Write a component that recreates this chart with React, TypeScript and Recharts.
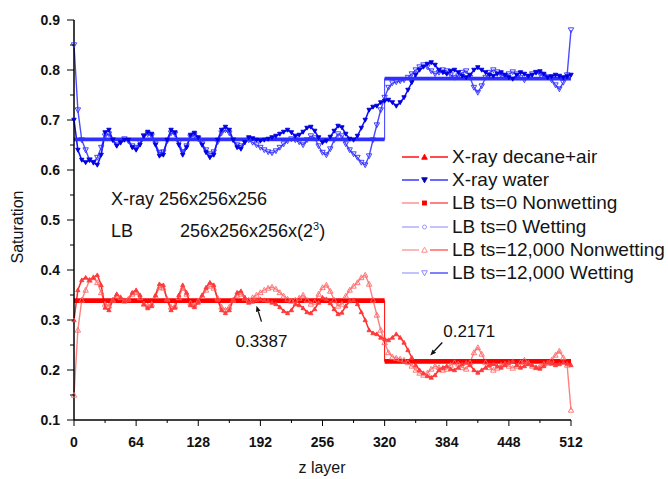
import React from "react";
import { LineChart, Line, XAxis, YAxis, ReferenceDot, Legend } from "recharts";

// saturation profiles sampled every 4 z layers (0..512)
const Z_STEP = 4;

const xrayWater = [
  0.70, 0.64, 0.62, 0.615, 0.62, 0.615, 0.61, 0.63,
  0.675, 0.68, 0.66, 0.648, 0.655, 0.66, 0.66, 0.645,
  0.64, 0.65, 0.668, 0.676, 0.672, 0.65, 0.628, 0.63,
  0.66, 0.68, 0.675, 0.65, 0.63, 0.645, 0.67, 0.674,
  0.665, 0.65, 0.635, 0.625, 0.63, 0.66, 0.68, 0.686,
  0.68, 0.66, 0.645, 0.642, 0.655, 0.665, 0.663, 0.66,
  0.658, 0.66, 0.662, 0.665, 0.668, 0.672, 0.676, 0.68,
  0.675, 0.668, 0.67, 0.676, 0.684, 0.686, 0.678, 0.665,
  0.655, 0.658, 0.666, 0.678, 0.688, 0.685, 0.672, 0.662,
  0.66, 0.668, 0.684, 0.70, 0.72, 0.726, 0.728, 0.735,
  0.738, 0.74, 0.735, 0.728, 0.735, 0.745, 0.76, 0.775,
  0.79, 0.80, 0.806, 0.812, 0.815, 0.81, 0.80, 0.795,
  0.792, 0.798, 0.80, 0.795, 0.788, 0.785, 0.79, 0.80,
  0.805, 0.80, 0.795, 0.79, 0.788, 0.792, 0.795, 0.79,
  0.785, 0.782, 0.79, 0.795, 0.792, 0.788, 0.79, 0.795,
  0.797, 0.792, 0.785, 0.787, 0.79, 0.788, 0.785, 0.787,
  0.79,
];

const lbWetting12k = [
  0.85, 0.72, 0.66, 0.64, 0.62, 0.615, 0.625, 0.645,
  0.668, 0.672, 0.66, 0.65, 0.655, 0.662, 0.658, 0.648,
  0.645, 0.655, 0.668, 0.672, 0.668, 0.652, 0.635, 0.636,
  0.658, 0.674, 0.672, 0.655, 0.636, 0.648, 0.666, 0.67,
  0.662, 0.652, 0.64, 0.632, 0.636, 0.656, 0.674, 0.68,
  0.674, 0.66, 0.65, 0.648, 0.656, 0.66, 0.655, 0.65,
  0.645, 0.64, 0.636, 0.634, 0.638, 0.645, 0.652, 0.658,
  0.662, 0.66, 0.656, 0.65, 0.66, 0.668, 0.664, 0.648,
  0.635, 0.63, 0.642, 0.66, 0.672, 0.668, 0.652, 0.64,
  0.632, 0.625, 0.615, 0.61, 0.628, 0.66, 0.69, 0.72,
  0.745, 0.765, 0.774, 0.776, 0.778, 0.78, 0.785, 0.792,
  0.80, 0.806, 0.81, 0.806, 0.798, 0.792, 0.795, 0.80,
  0.798, 0.79, 0.785, 0.788, 0.795, 0.798, 0.785, 0.765,
  0.755, 0.768, 0.785, 0.795, 0.80, 0.796, 0.79, 0.788,
  0.792, 0.796, 0.792, 0.785, 0.78, 0.786, 0.792, 0.795,
  0.792, 0.788, 0.786, 0.78, 0.77, 0.762, 0.775, 0.79,
  0.88,
];

const xrayDecane = [
  0.30, 0.36, 0.38, 0.385, 0.38, 0.385, 0.39, 0.37,
  0.325, 0.32, 0.34, 0.352, 0.345, 0.34, 0.34, 0.355,
  0.36, 0.35, 0.332, 0.324, 0.328, 0.35, 0.372, 0.37,
  0.34, 0.32, 0.325, 0.35, 0.37, 0.355, 0.33, 0.326,
  0.335, 0.35, 0.365, 0.375, 0.37, 0.34, 0.32, 0.314,
  0.32, 0.34, 0.355, 0.358, 0.345, 0.335, 0.337, 0.34,
  0.342, 0.34, 0.338, 0.335, 0.332, 0.326, 0.318, 0.314,
  0.32, 0.332, 0.33, 0.324, 0.316, 0.314, 0.322, 0.335,
  0.345, 0.342, 0.334, 0.322, 0.312, 0.315, 0.328, 0.338,
  0.34, 0.332, 0.316, 0.30, 0.28, 0.274, 0.272, 0.265,
  0.262, 0.26, 0.265, 0.272, 0.265, 0.255, 0.24, 0.225,
  0.21, 0.20, 0.194, 0.188, 0.185, 0.19, 0.20, 0.205,
  0.208, 0.202, 0.20, 0.205, 0.212, 0.215, 0.21, 0.20,
  0.195, 0.20, 0.205, 0.21, 0.212, 0.208, 0.205, 0.21,
  0.215, 0.218, 0.21, 0.205, 0.208, 0.212, 0.21, 0.205,
  0.203, 0.208, 0.215, 0.213, 0.21, 0.212, 0.215, 0.213,
  0.21,
];

const lbNonwetting12k = [
  0.15, 0.28, 0.34, 0.36, 0.38, 0.385, 0.375, 0.355,
  0.332, 0.328, 0.34, 0.35, 0.345, 0.338, 0.342, 0.352,
  0.355, 0.345, 0.332, 0.328, 0.332, 0.348, 0.365, 0.364,
  0.342, 0.326, 0.328, 0.345, 0.364, 0.352, 0.334, 0.33,
  0.338, 0.348, 0.36, 0.368, 0.364, 0.344, 0.326, 0.32,
  0.326, 0.34, 0.35, 0.352, 0.344, 0.34, 0.345, 0.35,
  0.355, 0.36, 0.364, 0.366, 0.362, 0.355, 0.348, 0.342,
  0.338, 0.34, 0.344, 0.35, 0.34, 0.332, 0.336, 0.352,
  0.365, 0.37, 0.358, 0.34, 0.328, 0.332, 0.348, 0.36,
  0.368, 0.375, 0.385, 0.39, 0.372, 0.34, 0.31, 0.28,
  0.255, 0.235, 0.226, 0.224, 0.222, 0.22, 0.215, 0.208,
  0.20, 0.194, 0.19, 0.194, 0.202, 0.208, 0.205, 0.20,
  0.202, 0.21, 0.215, 0.212, 0.205, 0.202, 0.215, 0.235,
  0.245, 0.232, 0.215, 0.205, 0.20, 0.204, 0.21, 0.212,
  0.208, 0.204, 0.208, 0.215, 0.22, 0.214, 0.208, 0.205,
  0.208, 0.212, 0.214, 0.22, 0.23, 0.238, 0.225, 0.21,
  0.12,
];

// initial LB state: uniform saturation on each side of layer 320
const lbNonwetting0 = [0.3387, 0.2171];
const lbWetting0 = [0.6613, 0.7829];
const STEP_LAYER = 320;
const Z_MAX = 512;

const xTicks = [0, 32, 64, 96, 128, 160, 192, 224, 256, 288, 320, 352, 384, 416, 448, 480, 512];
const yTicks = [0.1, 0.15, 0.2, 0.25, 0.3, 0.35, 0.4, 0.45, 0.5, 0.55, 0.6, 0.65, 0.7, 0.75, 0.8, 0.85, 0.9];

const NAMES = {
  xrayDecane: "X-ray decane+air",
  xrayWater: "X-ray water",
  lbNon0: "LB ts=0 Nonwetting",
  lbWet0: "LB ts=0 Wetting",
  lbNon12k: "LB ts=12,000 Nonwetting",
  lbWet12k: "LB ts=12,000 Wetting",
};

const FONT = '"Liberation Sans", Arial, Helvetica, sans-serif';

const toPoints = (arr: number[]) => arr.map((v, i) => ({ z: i * Z_STEP, v }));

const stepLine = (pair: number[]) => [
  { z: 0, v: pair[0] },
  { z: STEP_LAYER, v: pair[0] },
  { z: STEP_LAYER, v: pair[1] },
  { z: Z_MAX, v: pair[1] },
];

// same as stepLine but broken at the jump so the thick band skips the vertical
const stepBand = (pair: number[]) => [
  { z: 0, v: pair[0] },
  { z: STEP_LAYER, v: pair[0] },
  { z: STEP_LAYER, v: null },
  { z: STEP_LAYER, v: pair[1] },
  { z: Z_MAX, v: pair[1] },
];

type MarkerKind = "up" | "down" | "square" | "circle";

function markerShape(kind: MarkerKind, cx: number, cy: number, s: number, color: string, filled: boolean, key?: any) {
  const fill = filled ? color : "#fff";
  const fillOpacity = filled ? 1 : 0;
  if (kind === "square") {
    return <rect key={key} x={cx - s} y={cy - s} width={2 * s} height={2 * s} fill={fill} fillOpacity={fillOpacity} stroke={color} strokeWidth={0.9} />;
  }
  if (kind === "circle") {
    return <circle key={key} cx={cx} cy={cy} r={s} fill={fill} fillOpacity={fillOpacity} stroke={color} strokeWidth={0.9} />;
  }
  const d =
    kind === "up"
      ? `M${cx - s},${cy + s * 0.8}L${cx + s},${cy + s * 0.8}L${cx},${cy - s}Z`
      : `M${cx - s},${cy - s * 0.8}L${cx + s},${cy - s * 0.8}L${cx},${cy + s}Z`;
  return <path key={key} d={d} fill={fill} fillOpacity={fillOpacity} stroke={color} strokeWidth={0.9} />;
}

const dotRenderer = (kind: MarkerKind, color: string, filled: boolean, size: number) => (props: any) => {
  const { cx, cy, index } = props;
  if (cx == null || cy == null || Number.isNaN(cy)) return <g key={`d-${index}`} />;
  return markerShape(kind, cx, cy, size, color, filled, `d-${index}`);
};

function XTick(props: any) {
  const { x, y, payload } = props;
  const major = payload.value % 64 === 0;
  return (
    <g>
      <line x1={x} y1={y} x2={x} y2={y + (major ? 6 : 3)} stroke="#000" strokeWidth={1} />
      {major && (
        <text x={x} y={y + 27} textAnchor="middle" fontFamily={FONT} fontSize={14} fontWeight="bold" fill="#111">
          {payload.value}
        </text>
      )}
    </g>
  );
}

function YTick(props: any) {
  const { x, y, payload } = props;
  const major = Math.round(payload.value * 100) % 10 === 0;
  return (
    <g>
      <line x1={x - (major ? 7 : 4)} y1={y} x2={x} y2={y} stroke="#000" strokeWidth={1} />
      {major && (
        <text x={x - 14} y={y + 5} textAnchor="end" fontFamily={FONT} fontSize={14} fontWeight="bold" fill="#111">
          {payload.value.toFixed(1)}
        </text>
      )}
    </g>
  );
}

const legendRows: { name: string; left: string; right: string; kind: MarkerKind; mark: string; filled: boolean }[] = [
  { name: NAMES.xrayDecane, left: "#ff0000", right: "#ff0000", kind: "up", mark: "#ff0000", filled: true },
  { name: NAMES.xrayWater, left: "#2a2aff", right: "#2a2aff", kind: "down", mark: "#0000c0", filled: true },
  { name: NAMES.lbNon0, left: "#ff8a8a", right: "#ff4a4a", kind: "square", mark: "#ff0000", filled: true },
  { name: NAMES.lbWet0, left: "#a8a8ff", right: "#a8a8ff", kind: "circle", mark: "#9090ff", filled: false },
  { name: NAMES.lbNon12k, left: "#ff9a9a", right: "#ff5a5a", kind: "up", mark: "#ff8080", filled: false },
  { name: NAMES.lbWet12k, left: "#a8a8ff", right: "#4a4aff", kind: "down", mark: "#7a7aff", filled: false },
];

function LegendBox() {
  return (
    <div style={{ fontFamily: FONT, fontSize: 19, color: "#141414" }}>
      {legendRows.map((r) => (
        <div key={r.name} style={{ display: "flex", alignItems: "center", height: 23.3 }}>
          <svg width={52} height={12} style={{ flex: "none" }}>
            <line x1={2} y1={6} x2={19} y2={6} stroke={r.left} strokeWidth={1.4} />
            <line x1={30} y1={6} x2={48} y2={6} stroke={r.right} strokeWidth={1.4} />
            {markerShape(r.kind, 24.5, 6, r.kind === "square" || r.kind === "circle" ? 2 : 2.8, r.mark, r.filled)}
          </svg>
          <span style={{ whiteSpace: "nowrap" }}>{r.name}</span>
        </div>
      ))}
    </div>
  );
}

function Arrow({ x1, y1, x2, y2 }: { x1: number; y1: number; x2: number; y2: number }) {
  const a = Math.atan2(y2 - y1, x2 - x1);
  const L = 6;
  const w = 2.4;
  const bx = x2 - L * Math.cos(a);
  const by = y2 - L * Math.sin(a);
  const px = -Math.sin(a) * w;
  const py = Math.cos(a) * w;
  return (
    <g>
      <line x1={x1} y1={y1} x2={bx} y2={by} stroke="#111" strokeWidth={1.3} />
      <path d={`M${x2},${y2}L${bx + px},${by + py}L${bx - px},${by - py}Z`} fill="#111" />
    </g>
  );
}

export default function App() {
  return (
    <div style={{ position: "absolute", left: 0, top: 0, width: 668, height: 479, background: "#fff" }}>
      <LineChart width={668} height={479} margin={{ top: 20, right: 97, left: 0, bottom: 0 }}>
        <XAxis
          dataKey="z"
          type="number"
          domain={[0, Z_MAX]}
          ticks={xTicks}
          interval={0}
          tickSize={0}
          tickMargin={0}
          height={59}
          axisLine={{ stroke: "#000", strokeWidth: 1.5 }}
          tick={(p: any) => <XTick {...p} />}
          allowDuplicatedCategory={false}
        />
        <YAxis
          type="number"
          domain={[0.1, 0.9]}
          ticks={yTicks}
          interval={0}
          tickSize={0}
          tickMargin={0}
          width={74}
          axisLine={{ stroke: "#000", strokeWidth: 1.5 }}
          tick={(p: any) => <YTick {...p} />}
          allowDataOverflow
        />
        <Legend
          layout="vertical"
          align="center"
          verticalAlign="middle"
          content={() => <LegendBox />}
          wrapperStyle={{ left: 400, top: 145, width: 268 }}
        />

        <Line
          data={toPoints(lbNonwetting12k)}
          dataKey="v"
          name={NAMES.lbNon12k}
          stroke="#ff8080"
          strokeWidth={1.4}
          dot={dotRenderer("up", "#ff6a6a", false, 2.7)}
          isAnimationActive={false}
        />
        <Line
          data={toPoints(xrayDecane)}
          dataKey="v"
          name={NAMES.xrayDecane}
          stroke="#ff2a2a"
          strokeWidth={1.5}
          dot={dotRenderer("up", "#ff3a3a", true, 2.1)}
          isAnimationActive={false}
        />
        <Line
          data={toPoints(lbWetting12k)}
          dataKey="v"
          name={NAMES.lbWet12k}
          stroke="#4a4aff"
          strokeWidth={1.4}
          dot={dotRenderer("down", "#3030ff", false, 2.7)}
          isAnimationActive={false}
        />
        <Line
          data={toPoints(xrayWater)}
          dataKey="v"
          name={NAMES.xrayWater}
          stroke="#1414ff"
          strokeWidth={1.6}
          dot={dotRenderer("down", "#0000e0", true, 2.2)}
          isAnimationActive={false}
        />

        <Line data={stepLine(lbWetting0)} dataKey="v" name={NAMES.lbWet0} stroke="#3a3aff" strokeWidth={1} dot={false} isAnimationActive={false} legendType="none" />
        <Line data={stepBand(lbWetting0)} dataKey="v" name={NAMES.lbWet0} stroke="#2f2fff" strokeWidth={3.8} dot={false} isAnimationActive={false} legendType="none" />
        <Line data={stepLine(lbNonwetting0)} dataKey="v" name={NAMES.lbNon0} stroke="#ff0000" strokeWidth={1} dot={false} isAnimationActive={false} legendType="none" />
        <Line data={stepBand(lbNonwetting0)} dataKey="v" name={NAMES.lbNon0} stroke="#ff0000" strokeWidth={4.8} dot={false} isAnimationActive={false} legendType="none" />

        <ReferenceDot
          x={188}
          y={lbNonwetting0[0]}
          r={0}
          ifOverflow="visible"
          shape={(p: any) => (
            <g>
              <Arrow x1={p.cx + 5} y1={p.cy + 21} x2={p.cx} y2={p.cy + 5} />
              <text x={p.cx - 21} y={p.cy + 46} fontFamily={FONT} fontSize={17} fill="#111">
                {lbNonwetting0[0].toFixed(4)}
              </text>
            </g>
          )}
        />
        <ReferenceDot
          x={367}
          y={lbNonwetting0[1]}
          r={0}
          ifOverflow="visible"
          shape={(p: any) => (
            <g>
              <Arrow x1={p.cx + 12} y1={p.cy - 19} x2={p.cx} y2={p.cy - 6} />
              <text x={p.cx + 13} y={p.cy - 24} fontFamily={FONT} fontSize={17} fill="#111">
                {lbNonwetting0[1].toFixed(4)}
              </text>
            </g>
          )}
        />
      </LineChart>

      <div style={{ position: "absolute", left: 111, top: 189, fontFamily: FONT, fontSize: 18, color: "#141414", whiteSpace: "nowrap" }}>
        X-ray 256x256x256
      </div>
      <div style={{ position: "absolute", left: 111, top: 221, fontFamily: FONT, fontSize: 18, color: "#141414", whiteSpace: "nowrap" }}>
        LB
      </div>
      <div style={{ position: "absolute", left: 180, top: 221, fontFamily: FONT, fontSize: 18, color: "#141414", whiteSpace: "nowrap" }}>
        256x256x256x(2<sup style={{ fontSize: 11, verticalAlign: "7px", lineHeight: 0 }}>3</sup>)
      </div>

      <div
        style={{
          position: "absolute",
          left: 18,
          top: 227,
          transform: "translate(-50%, -50%) rotate(-90deg)",
          fontFamily: FONT,
          fontSize: 16,
          color: "#141414",
          whiteSpace: "nowrap",
        }}
      >
        Saturation
      </div>
      <div
        style={{
          position: "absolute",
          left: 322,
          top: 468,
          transform: "translate(-50%, -50%)",
          fontFamily: FONT,
          fontSize: 16,
          color: "#141414",
          whiteSpace: "nowrap",
        }}
      >
        z layer
      </div>
    </div>
  );
}
